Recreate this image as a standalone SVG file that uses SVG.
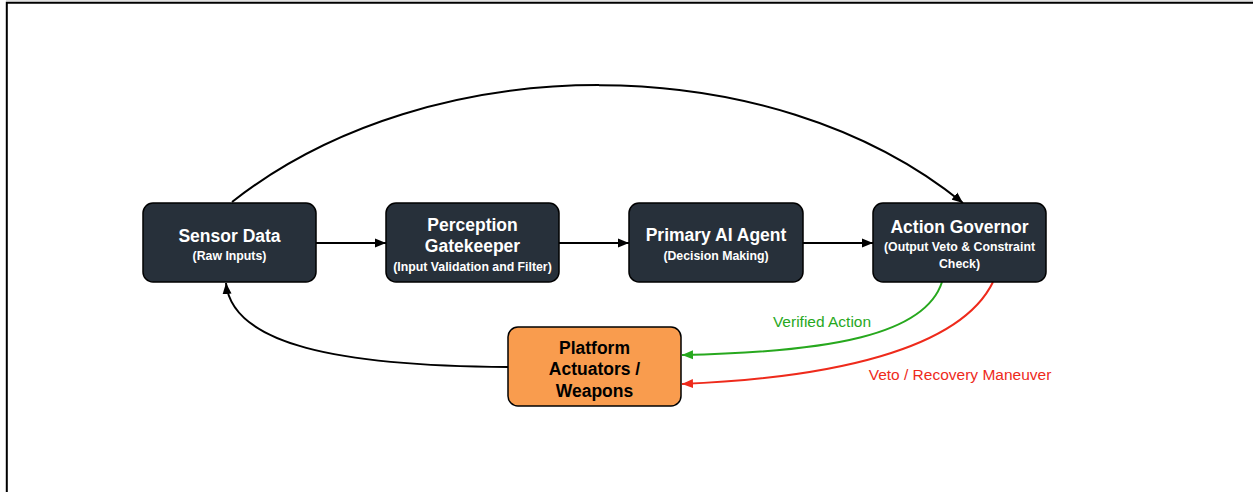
<svg xmlns="http://www.w3.org/2000/svg" width="1253" height="492" viewBox="0 0 1253 492">
  <style>
    .box { fill: #27303a; stroke: #000; stroke-width: 1.5; }
    .plat { fill: #f99c4e; stroke: #000; stroke-width: 1.5; }
    .t { font-family: "Liberation Sans", Arial, sans-serif; font-weight: bold; text-anchor: middle; }
    .title { font-size: 17.5px; fill: #fff; }
    .sub { font-size: 12.3px; fill: #fff; }
    .ptitle { font-size: 17.5px; fill: #000; }
    .edge { fill: none; stroke: #000; stroke-width: 2; }
    .lbl { font-family: "Liberation Sans", Arial, sans-serif; font-size: 15.5px; text-anchor: middle; }
  </style>
  <defs>
    <marker id="ab" markerUnits="userSpaceOnUse" markerWidth="12" markerHeight="10" refX="11" refY="5" orient="auto">
      <path d="M0,0.5 L11,5 L0,9.5 Z" fill="#000"/>
    </marker>
    <marker id="ag" markerUnits="userSpaceOnUse" markerWidth="12" markerHeight="10" refX="11" refY="5" orient="auto">
      <path d="M0,0.5 L11,5 L0,9.5 Z" fill="#27a81e"/>
    </marker>
    <marker id="ar" markerUnits="userSpaceOnUse" markerWidth="12" markerHeight="10" refX="11" refY="5" orient="auto">
      <path d="M0,0.5 L11,5 L0,9.5 Z" fill="#ee2a1b"/>
    </marker>
  </defs>
  <rect x="0" y="0" width="1253" height="492" fill="#fff"/>
  <line x1="6" y1="0.8" x2="1253" y2="0.8" stroke="#d6d6d6" stroke-width="1"/>
  <path d="M6.8,492 V2.8 H1253" fill="none" stroke="#000" stroke-width="2"/>

  <g id="connectors">
    <path class="edge" d="M316,243 H386" marker-end="url(#ab)"/>
    <path class="edge" d="M559,243 H629" marker-end="url(#ab)"/>
    <path class="edge" d="M803,243 H873" marker-end="url(#ab)"/>
    <path class="edge" d="M232,202 C430,46 770,46 963,203" marker-end="url(#ab)"/>
    <path class="edge" d="M508,367 C340,366 232,345 226,283" marker-end="url(#ab)"/>
    <path d="M942,282 C925,335 830,352 682,355" fill="none" stroke="#27a81e" stroke-width="2" marker-end="url(#ag)"/>
    <path d="M993,282 C960,350 830,378 682,384" fill="none" stroke="#ee2a1b" stroke-width="2" marker-end="url(#ar)"/>
    <text class="lbl" x="822" y="327" fill="#27a81e">Verified Action</text>
    <text class="lbl" x="960" y="380" fill="#ee2a1b">Veto / Recovery Maneuver</text>
  </g>

  <g id="sensor">
    <rect class="box" x="143" y="203" width="173" height="79" rx="10"/>
    <text class="t title" x="229.5" y="242">Sensor Data</text>
    <text class="t sub" x="229.5" y="260">(Raw Inputs)</text>
  </g>
  <g id="perception">
    <rect class="box" x="386" y="203" width="173" height="79" rx="10"/>
    <text class="t title" x="472.5" y="231">Perception</text>
    <text class="t title" x="472.5" y="252">Gatekeeper</text>
    <text class="t sub" x="472.5" y="271">(Input Validation and Filter)</text>
  </g>
  <g id="primary">
    <rect class="box" x="629" y="203" width="174" height="79" rx="10"/>
    <text class="t title" x="716" y="241">Primary AI Agent</text>
    <text class="t sub" x="716" y="260">(Decision Making)</text>
  </g>
  <g id="governor">
    <rect class="box" x="873" y="203" width="173" height="79" rx="10"/>
    <text class="t title" x="959.5" y="233">Action Governor</text>
    <text class="t sub" x="959.5" y="251">(Output Veto &amp; Constraint</text>
    <text class="t sub" x="959.5" y="268">Check)</text>
  </g>
  <g id="platform">
    <rect class="plat" x="508" y="327" width="173" height="79" rx="10"/>
    <text class="t ptitle" x="594.5" y="354">Platform</text>
    <text class="t ptitle" x="594.5" y="375">Actuators /</text>
    <text class="t ptitle" x="594.5" y="397">Weapons</text>
  </g>
</svg>
